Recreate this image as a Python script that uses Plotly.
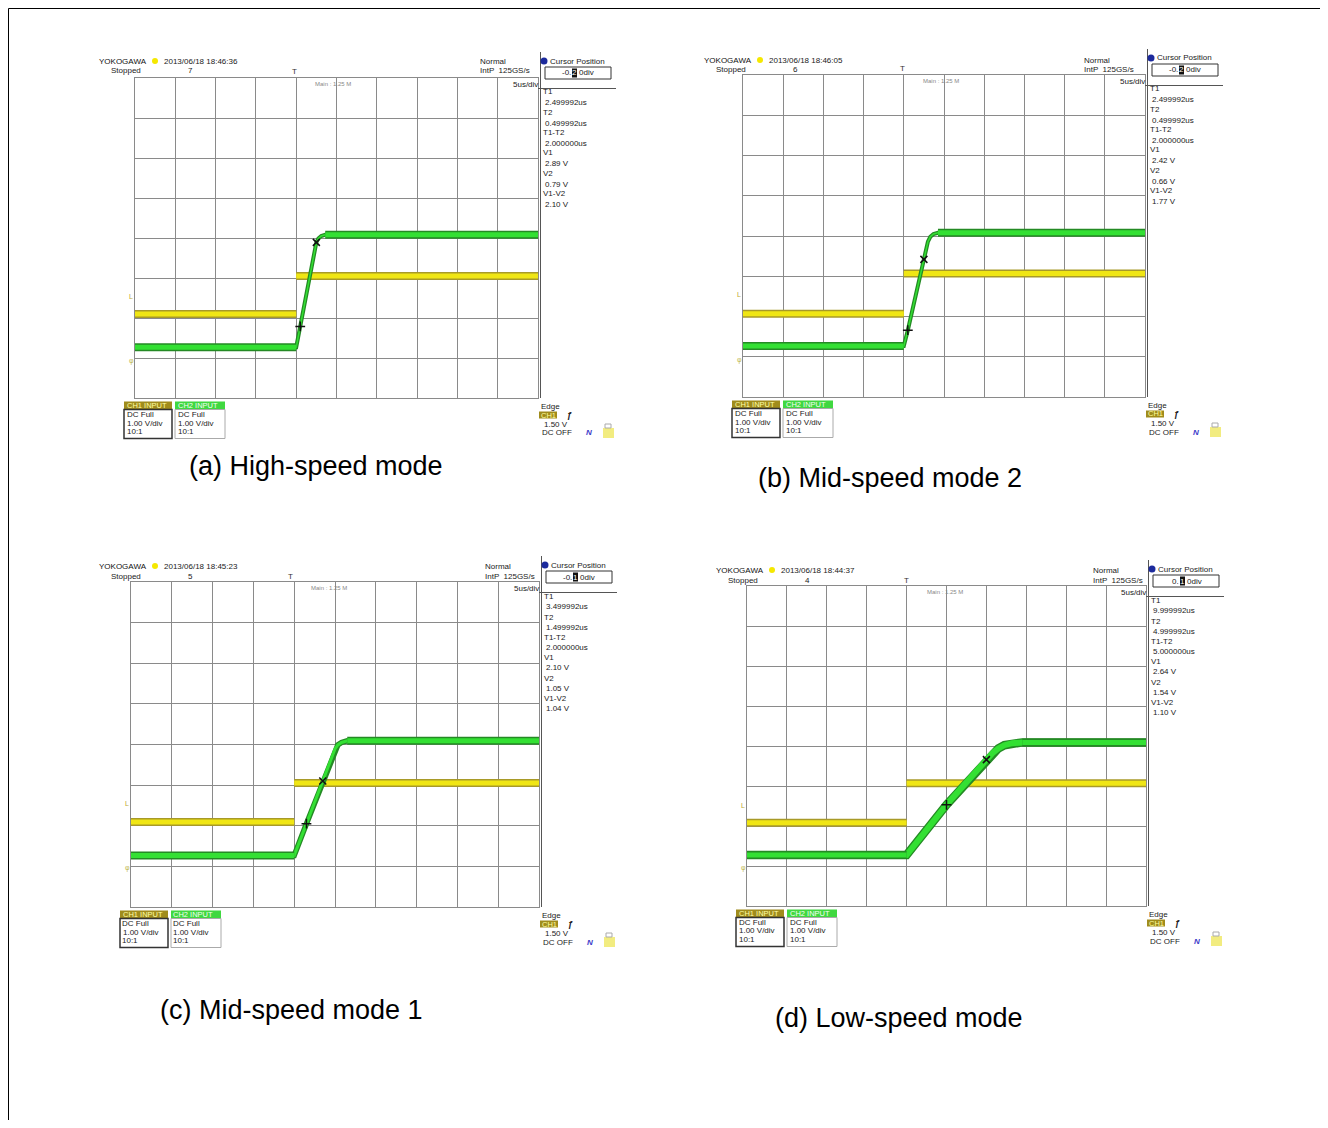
import plotly.graph_objects as go

# ---------------- data ----------------
captions = ["(a) High-speed mode", "(b) Mid-speed mode 2", "(c) Mid-speed mode 1", "(d) Low-speed mode"]
timestamps = ["2013/06/18 18:46:36", "2013/06/18 18:46:05", "2013/06/18 18:45:23", "2013/06/18 18:44:37"]
acq_counts = ["7", "6", "5", "4"]
cursor_prefix = ["-0.", "-0.", "-0.", "0."]
cursor_digit = ["2", "2", "1", "1"]
t1_vals = ["2.499992us", "2.499992us", "3.499992us", "9.999992us"]
t2_vals = ["0.499992us", "0.499992us", "1.499992us", "4.999992us"]
dt_vals = ["2.000000us", "2.000000us", "2.000000us", "5.000000us"]
v1_vals = ["2.89 V", "2.42 V", "2.10 V", "2.64 V"]
v2_vals = ["0.79 V", "0.66 V", "1.05 V", "1.54 V"]
dv_vals = ["2.10 V", "1.77 V", "1.04 V", "1.10 V"]

# CH1 (yellow) levels, in divisions
ch1_low = [2.10, 2.07, 2.09, 2.08]
ch1_high = [3.05, 3.07, 3.05, 3.07]
ch1_step = [4.0, 4.0, 4.0, 4.0]

# CH2 (green) waveforms, in divisions
ch2_a_x = [0, 4.0, 4.1, 4.5, 4.55, 4.62, 4.72, 10]
ch2_a_y = [1.27, 1.27, 1.79, 3.89, 3.99, 4.05, 4.08, 4.08]
ch2_b_x = [0, 4.0, 4.1, 4.5, 4.6, 4.66, 4.74, 4.85, 10]
ch2_b_y = [1.27, 1.27, 1.66, 3.42, 3.86, 3.98, 4.05, 4.08, 4.08]
ch2_c_x = [0, 4.0, 4.3, 4.7, 5.0, 5.07, 5.16, 5.3, 10]
ch2_c_y = [1.27, 1.27, 2.05, 3.10, 3.89, 3.99, 4.05, 4.09, 4.09]
ch2_d_x = [0, 4.0, 5.0, 6.0, 6.15, 6.3, 6.45, 6.65, 6.9, 10]
ch2_d_y = [1.275, 1.275, 2.53, 3.66, 3.82, 3.94, 4.02, 4.07, 4.09, 4.09]
ch2_x = [ch2_a_x, ch2_b_x, ch2_c_x, ch2_d_x]
ch2_y = [ch2_a_y, ch2_b_y, ch2_c_y, ch2_d_y]

# cursor positions (T2 "+", T1 "x")
cur_x = [[4.1, 4.5], [4.1, 4.5], [4.3, 4.7], [5.0, 6.0]]
cur_y = [[1.79, 3.89], [1.66, 3.42], [2.05, 3.10], [2.53, 3.66]]

# ground / level markers
mark_ch1 = [2.55, 2.55, 2.55, 2.52]
mark_ch2 = [0.92, 0.93, 0.95, 0.94]

# ---------------- layout helpers ----------------
W, H, OFF = 1312, 1112, 8
FONT = "Liberation Sans, Arial, Helvetica, sans-serif"
GRID = "#8a8a8a"
GREEN = "#33e033"
GREEN_EDGE = "#248a24"
YEL = "#f0e614"
YEL_EDGE = "#a89a28"
OLIVE = "#a08c1c"
SMALL = 8

def fx(X):
    return (X - OFF) / W

def fy(Y):
    return 1 - (Y - OFF) / H

shapes = []
annotations = []

def text(X, Y, s, size=SMALL, color="#1a1a1a", xanchor="left", yanchor="middle"):
    annotations.append(dict(x=fx(X), y=fy(Y), xref="paper", yref="paper", text=s, showarrow=False,
                            xanchor=xanchor, yanchor=yanchor, borderpad=0,
                            font=dict(size=size, color=color, family=FONT)))

def rect(X0, Y0, X1, Y1, fill=None, line=None, lw=1):
    shapes.append(dict(type="rect", xref="paper", yref="paper", x0=fx(X0), x1=fx(X1), y0=fy(Y1), y1=fy(Y0),
                       fillcolor=fill if fill else "rgba(0,0,0,0)",
                       line=dict(color=line if line else "rgba(0,0,0,0)", width=lw if line else 0),
                       layer="above"))

def seg(X0, Y0, X1, Y1, color="#333", lw=1):
    shapes.append(dict(type="line", xref="paper", yref="paper", x0=fx(X0), x1=fx(X1), y0=fy(Y0), y1=fy(Y1),
                       line=dict(color=color, width=lw), layer="above"))

def circle(cx, cy, r, fill):
    shapes.append(dict(type="circle", xref="paper", yref="paper", x0=fx(cx - r), x1=fx(cx + r),
                       y0=fy(cy + r), y1=fy(cy - r), fillcolor=fill, line=dict(width=0), layer="above"))

# panel grid boxes in page pixels
panels = [
    dict(L=135, T=78, R=538, B=398, hdx=0, hdy=0, cap=(316, 466), rise=2.5),
    dict(L=743, T=75, R=1145, B=397, hdx=-3, hdy=2, cap=(890, 478), rise=2.5),
    dict(L=131, T=582, R=539, B=907, hdx=4, hdy=1, cap=(291, 1010), rise=4),
    dict(L=747, T=586, R=1146, B=906, hdx=5, hdy=1, cap=(899, 1018), rise=7),
]
A = dict(L=135, T=78, R=538, B=398)

fig = go.Figure()
layout_axes = {}

for i, p in enumerate(panels):
    n = "" if i == 0 else str(i + 1)
    xa, ya = "x" + n, "y" + n

    def P(X, Y, h="L", v="T", shift=False):
        return (p[h] + (X - A[h]) + (p["hdx"] if shift else 0),
                p[v] + (Y - A[v]) + (p["hdy"] if shift else 0))

    layout_axes["xaxis" + n] = dict(domain=[fx(p["L"]), fx(p["R"])], range=[0, 10], dtick=1, tick0=0,
                                    showgrid=True, gridcolor=GRID, gridwidth=1, showline=True, linecolor=GRID,
                                    linewidth=1, mirror=True, zeroline=False, showticklabels=False, ticks="",
                                    anchor=ya, fixedrange=True)
    layout_axes["yaxis" + n] = dict(domain=[fy(p["B"]), fy(p["T"])], range=[0, 8], dtick=1, tick0=0,
                                    showgrid=True, gridcolor=GRID, gridwidth=1, showline=True, linecolor=GRID,
                                    linewidth=1, mirror=True, zeroline=False, showticklabels=False, ticks="",
                                    anchor=xa, fixedrange=True)

    # CH1 yellow
    yx = [0, ch1_step[i], None, ch1_step[i], 10]
    yy = [ch1_low[i], ch1_low[i], None, ch1_high[i], ch1_high[i]]
    fig.add_trace(go.Scatter(x=yx, y=yy, mode="lines", line=dict(color=YEL_EDGE, width=8),
                             xaxis=xa, yaxis=ya, hoverinfo="skip"))
    fig.add_trace(go.Scatter(x=yx, y=yy, mode="lines", line=dict(color=YEL, width=5),
                             xaxis=xa, yaxis=ya, hoverinfo="skip"))

    # CH2 green: rise (full path) + thick plateaus
    gx, gy = ch2_x[i], ch2_y[i]
    fig.add_trace(go.Scatter(x=gx, y=gy, mode="lines", line=dict(color=GREEN_EDGE, width=p["rise"] + 1.5),
                             xaxis=xa, yaxis=ya, hoverinfo="skip"))
    fig.add_trace(go.Scatter(x=gx, y=gy, mode="lines", line=dict(color=GREEN, width=max(p["rise"] - 1, 1.5)),
                             xaxis=xa, yaxis=ya, hoverinfo="skip"))
    px_ = [gx[0], gx[1], None, gx[-2], gx[-1]]
    py_ = [gy[0], gy[1], None, gy[-2], gy[-1]]
    fig.add_trace(go.Scatter(x=px_, y=py_, mode="lines", line=dict(color=GREEN_EDGE, width=8),
                             xaxis=xa, yaxis=ya, hoverinfo="skip"))
    fig.add_trace(go.Scatter(x=px_, y=py_, mode="lines", line=dict(color=GREEN, width=5),
                             xaxis=xa, yaxis=ya, hoverinfo="skip"))

    # cursor markers
    fig.add_trace(go.Scatter(x=cur_x[i], y=cur_y[i], mode="markers",
                             marker=dict(symbol=["cross-thin", "x-thin"], size=7,
                                         line=dict(color="#111", width=1.5)),
                             xaxis=xa, yaxis=ya, hoverinfo="skip"))

    # level markers left of grid
    annotations.append(dict(x=fx(p["L"] - 4), y=mark_ch1[i], xref="paper", yref=ya, text="L",
                            showarrow=False, xanchor="center", yanchor="middle",
                            font=dict(size=7, color="#c0a830", family=FONT)))
    annotations.append(dict(x=fx(p["L"] - 4), y=mark_ch2[i], xref="paper", yref=ya, text="φ",
                            showarrow=False, xanchor="center", yanchor="middle",
                            font=dict(size=7, color="#c0b850", family=FONT)))

    # ---- header left ----
    X, Y = P(98, 61, shift=True); text(X, Y, "YOKOGAWA", color="#111")
    X, Y = P(155, 61, shift=True); circle(X, Y, 3, "#f5e800")
    X, Y = P(163, 61, shift=True); text(X, Y, timestamps[i])
    X, Y = P(110, 71, shift=True); text(X, Y, "Stopped")
    X, Y = P(190, 71, shift=True); text(X, Y, acq_counts[i], xanchor="center")
    X, Y = P(294, 72); text(X, Y, "T", size=8, color="#333", xanchor="center")
    X, Y = P(314, 84); text(X, Y, "Main : 1.25 M", size=6, color="#888")
    # ---- header right ----
    X, Y = P(479, 61, "R", "T", shift=True); text(X, Y, "Normal")
    X, Y = P(479, 71, "R", "T", shift=True); text(X, Y, "IntP  125GS/s")
    X, Y = P(539, 84, "R", "T"); text(X, Y, "5us/div", xanchor="right")
    # separators
    X0, Y0 = P(540.5, 52, "R", "T"); X1, Y1 = P(540.5, 398, "R", "B")
    seg(X0, Y0, X1, Y1, "#555", 1)
    X0, Y0 = P(538, 88.5, "R", "T"); X1, Y1 = P(616, 88.5, "R", "T")
    seg(X0, Y0, X1, Y1, "#555", 1)
    # cursor position box
    X, Y = P(544, 61, "R", "T"); circle(X, Y, 3.5, "#1c2a9c")
    X, Y = P(549, 61, "R", "T"); text(X, Y, "Cursor Position")
    X0, Y0 = P(545, 67, "R", "T"); X1, Y1 = P(611, 79, "R", "T")
    rect(X0, Y0, X1, Y1, fill="white", line="#333", lw=1)
    X0, Y0 = P(572, 68.5, "R", "T"); X1, Y1 = P(577, 77.5, "R", "T")
    rect(X0, Y0, X1, Y1, fill="#111")
    X, Y = P(571.5, 73, "R", "T"); text(X, Y, cursor_prefix[i], xanchor="right")
    X, Y = P(574.5, 73, "R", "T"); text(X, Y, cursor_digit[i], color="white", xanchor="center")
    X, Y = P(577.5, 73, "R", "T"); text(X, Y, "0div")
    # measurement column
    labels = ["T1", t1_vals[i], "T2", t2_vals[i], "T1-T2", dt_vals[i],
              "V1", v1_vals[i], "V2", v2_vals[i], "V1-V2", dv_vals[i]]
    ys = [92, 102, 113, 123, 133, 143, 153, 163, 174, 184, 194, 204]
    for k, (lab, yy0) in enumerate(zip(labels, ys)):
        X, Y = P(541.5 if k % 2 == 0 else 544, yy0, "R", "T")
        text(X, Y, lab)

    # ---- bottom left channel boxes ----
    X0, Y0 = P(124, 401.5, "L", "B"); X1, Y1 = P(172, 409.5, "L", "B")
    rect(X0, Y0, X1, Y1, fill=OLIVE)
    text(X0 + 1.5, (Y0 + Y1) / 2, "CH1 INPUT", size=7.5, color="#ffffa8")
    X0, Y0 = P(124, 409.5, "L", "B"); X1, Y1 = P(172, 438.5, "L", "B")
    rect(X0, Y0, X1, Y1, line="#333", lw=1.5)
    X0, Y0 = P(175, 401.5, "L", "B"); X1, Y1 = P(225, 409.5, "L", "B")
    rect(X0, Y0, X1, Y1, fill="#40d840")
    text(X0 + 1.5, (Y0 + Y1) / 2, "CH2 INPUT", size=7.5, color="#f4fff4")
    X0, Y0 = P(175, 409.5, "L", "B"); X1, Y1 = P(225, 438.5, "L", "B")
    rect(X0, Y0, X1, Y1, line="#aaa", lw=1)
    for bx in (125.5, 176.5):
        for s, yy0 in (("DC Full", 414.5), ("1.00 V/div", 423), ("10:1", 431.5)):
            X, Y = P(bx, yy0, "L", "B"); text(X, Y, s)

    # ---- bottom right trigger info ----
    X, Y = P(540, 406, "R", "B"); text(X, Y, "Edge")
    X0, Y0 = P(539, 411.5, "R", "B"); X1, Y1 = P(557, 418.5, "R", "B")
    rect(X0, Y0, X1, Y1, fill=OLIVE)
    text(X0 + 1, (Y0 + Y1) / 2, "CH1", size=7.5, color="#ffffa0")
    X, Y = P(566, 415, "R", "B"); text(X, Y, "<b>ƒ</b>", size=9, color="#222")
    X, Y = P(543, 424, "R", "B"); text(X, Y, "1.50 V")
    X, Y = P(541, 433, "R", "B"); text(X, Y, "DC OFF")
    X, Y = P(589, 433, "R", "B"); text(X, Y, "<i><b>N</b></i>", size=8, color="#3a3ac8", xanchor="center")
    X0, Y0 = P(603, 428, "R", "B"); X1, Y1 = P(614, 438, "R", "B")
    rect(X0, Y0, X1, Y1, fill="#f2ec80")
    X0, Y0 = P(605, 424, "R", "B"); X1, Y1 = P(611, 428, "R", "B")
    rect(X0, Y0, X1, Y1, line="#aaa", lw=1)

    # caption
    cx, cy = p["cap"]
    text(cx, cy, captions[i], size=27, color="#000", xanchor="center")

# page frame (left, top, right)
seg(8.5, 1128, 8.5, 8.5, "#000", 1)
seg(8.5, 8.5, 1320.5, 8.5, "#000", 1)
seg(1320.5, 8.5, 1320.5, 1128, "#000", 1)

fig.update_layout(width=W, height=H, margin=dict(l=0, r=0, t=0, b=0),
                  paper_bgcolor="white", plot_bgcolor="white", showlegend=False,
                  shapes=shapes, annotations=annotations, **layout_axes)

fig.write_html("out.html")
